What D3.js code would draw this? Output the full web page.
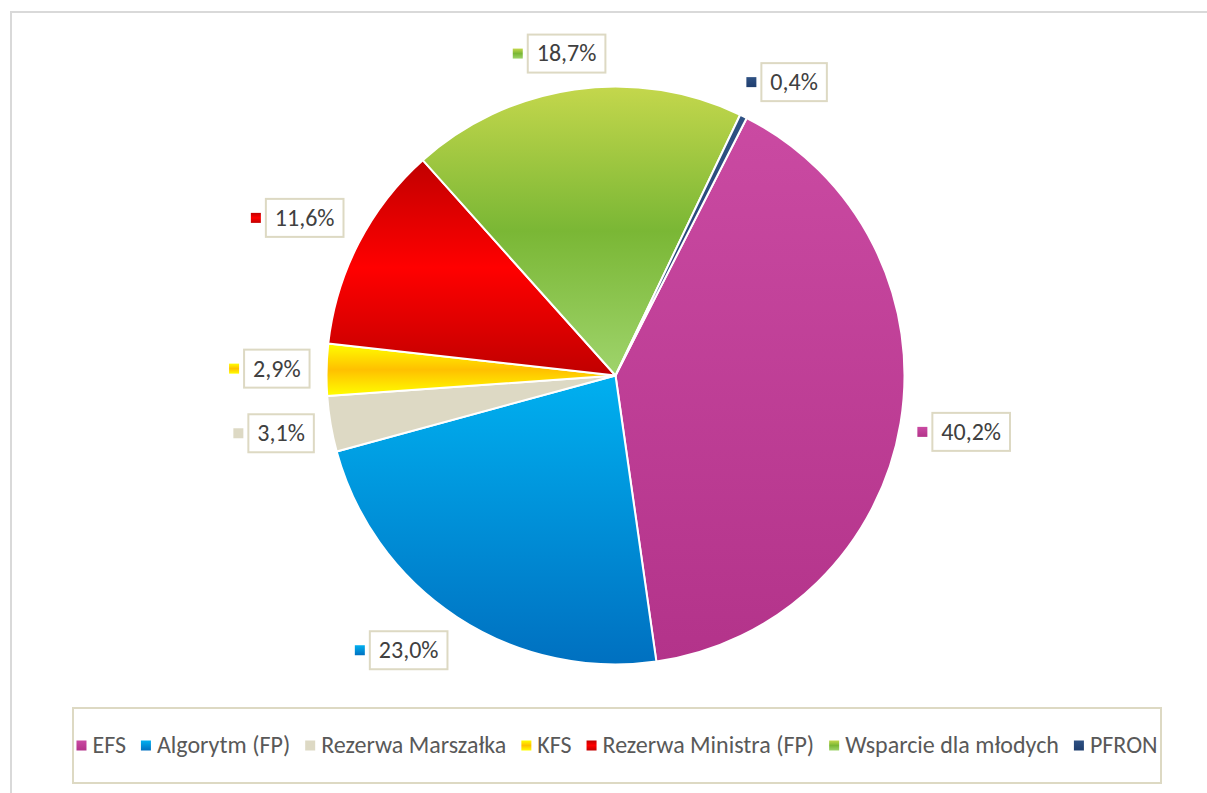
<!DOCTYPE html>
<html>
<head>
<meta charset="utf-8">
<script src="https://cdn.jsdelivr.net/npm/d3@7"></script>
<style>
    html, body { margin: 0; padding: 0; background: #fff; }
    text { font-family: Carlito, Calibri, Lato, sans-serif; }
</style>
</head>
<body>
<svg id="chart" width="1207" height="793"></svg>
<script>
// Series, in the order Excel draws them (clockwise from the first slice)
var categories = ["EFS", "Algorytm (FP)", "Rezerwa Marszałka", "KFS",
    "Rezerwa Ministra (FP)", "Wsparcie dla młodych", "PFRON"];
var shares = [40.2, 23.0, 3.1, 2.9, 11.6, 18.7, 0.4];

// Vertical gradient stops for each slice (top -> bottom)
var sliceStops = [
    ["#ca4aa2", "#b3338a"],
    ["#00b0f0", "#0070c0"],
    ["#ddd9c4", "#ddd9c4"],
    ["#ffff00", "#ffc000", "#ffff00"],
    ["#c00000", "#ff0000", "#c00000"],
    ["#c4d74c", "#7ab735", "#9fd46c"],
    ["#2f5183", "#1f3e6e"]
];

var width = 1207,
    height = 793,
    cx = 615.5,
    cy = 375.5,
    radius = 289,
    firstSliceAngle = 27,   // degrees, like Excel's "angle of first slice"
    fontSize = "24px";

var svg = d3.select("#chart");

var defs = svg.append("defs");
sliceStops.forEach(function(stops, i) {
    var grad = defs.append("linearGradient")
        .attr("id", "grad" + i)
        .attr("x1", 0).attr("y1", 0)
        .attr("x2", 0).attr("y2", 1);
    stops.forEach(function(c, j) {
        grad.append("stop")
            .attr("offset", j / (stops.length - 1))
            .attr("stop-color", c);
    });
});

// chart area border (cut off by the screenshot at right and bottom)
svg.append("rect")
    .attr("x", 11).attr("y", 12)
    .attr("width", width).attr("height", height)
    .attr("fill", "none")
    .attr("stroke", "#d9d9d9")
    .attr("stroke-width", 2);

var start = firstSliceAngle * Math.PI / 180;
var pie = d3.pie()
    .sort(null)
    .value(function(d) { return d; })
    .startAngle(start)
    .endAngle(start + 2 * Math.PI);

var arc = d3.arc()
    .innerRadius(0)
    .outerRadius(radius);

var arcs = pie(shares);

var plot = svg.append("g")
    .attr("transform", "translate(" + cx + "," + cy + ")");

plot.selectAll("path.slice")
    .data(arcs)
    .enter().append("path")
    .attr("class", "slice")
    .attr("d", arc)
    .attr("fill", function(d, i) { return "url(#grad" + i + ")"; })
    .attr("stroke", "#fff")
    .attr("stroke-width", 2)
    .attr("stroke-linejoin", "round");

function fmt(v) {
    return d3.format(".1f")(v).replace(".", ",") + "%";
}

drawLabels();
drawLegend();

function drawLabels() {
    var keySize = 10, keyGap = 5, boxH = 38, pad = 9;
    var labelRadius = radius + 17;
    var clamp = function(v) { return Math.max(-1, Math.min(1, v)); };

    arcs.forEach(function(d, i) {
        var g = svg.append("g");
        var txt = g.append("text")
            .attr("font-size", fontSize)
            .attr("fill", "#404040")
            .attr("dy", "0.33em")
            .text(fmt(d.data));
        var boxW = txt.node().getComputedTextLength() + 2 * pad;
        var w = keySize + keyGap + boxW;

        // anchor on a ring just outside the pie; the label's corner (or edge
        // middle, near the axes) that faces the pie sits on that anchor
        var mid = (d.startAngle + d.endAngle) / 2;
        var ux = Math.sin(mid), uy = -Math.cos(mid);
        var lx = cx + ux * labelRadius + clamp(2 * ux) * w / 2;
        var ly = cy + uy * labelRadius + clamp(2 * uy) * boxH / 2;
        var left = lx - w / 2;

        g.insert("rect", "text")
            .attr("x", left + keySize + keyGap)
            .attr("y", ly - boxH / 2)
            .attr("width", boxW)
            .attr("height", boxH)
            .attr("fill", "#fff")
            .attr("stroke", "#ddd9c3")
            .attr("stroke-width", 2);
        g.append("rect")
            .attr("x", left)
            .attr("y", ly - keySize / 2)
            .attr("width", keySize)
            .attr("height", keySize)
            .attr("fill", "url(#grad" + i + ")");
        txt.attr("x", left + keySize + keyGap + pad)
            .attr("y", ly);
    });
}

function drawLegend() {
    var box = { x: 73, y: 708, w: 1088, h: 75 };
    var keySize = 10, keyGap = 6, itemGap = 15;

    svg.append("rect")
        .attr("x", box.x).attr("y", box.y)
        .attr("width", box.w).attr("height", box.h)
        .attr("fill", "#fff")
        .attr("stroke", "#ddd9c3")
        .attr("stroke-width", 2);

    var legend = svg.append("g");
    var items = legend.selectAll("g.item")
        .data(categories)
        .enter().append("g")
        .attr("class", "item");

    items.append("rect")
        .attr("width", keySize)
        .attr("height", keySize)
        .attr("y", -keySize / 2)
        .attr("fill", function(d, i) { return "url(#grad" + i + ")"; });

    items.append("text")
        .attr("x", keySize + keyGap)
        .attr("dy", "0.33em")
        .attr("font-size", fontSize)
        .attr("fill", "#595959")
        .text(function(d) { return d; });

    // lay the items out in one row and centre the row in the box
    var x = 0;
    var offsets = [];
    items.each(function() {
        var tw = d3.select(this).select("text").node().getComputedTextLength();
        offsets.push(x);
        x += keySize + keyGap + tw + itemGap;
    });
    var total = x - itemGap;
    var x0 = box.x + (box.w - total) / 2;
    var yMid = box.y + box.h / 2;
    items.attr("transform", function(d, i) {
        return "translate(" + (x0 + offsets[i]) + "," + yMid + ")";
    });
}
</script>
</body>
</html>
